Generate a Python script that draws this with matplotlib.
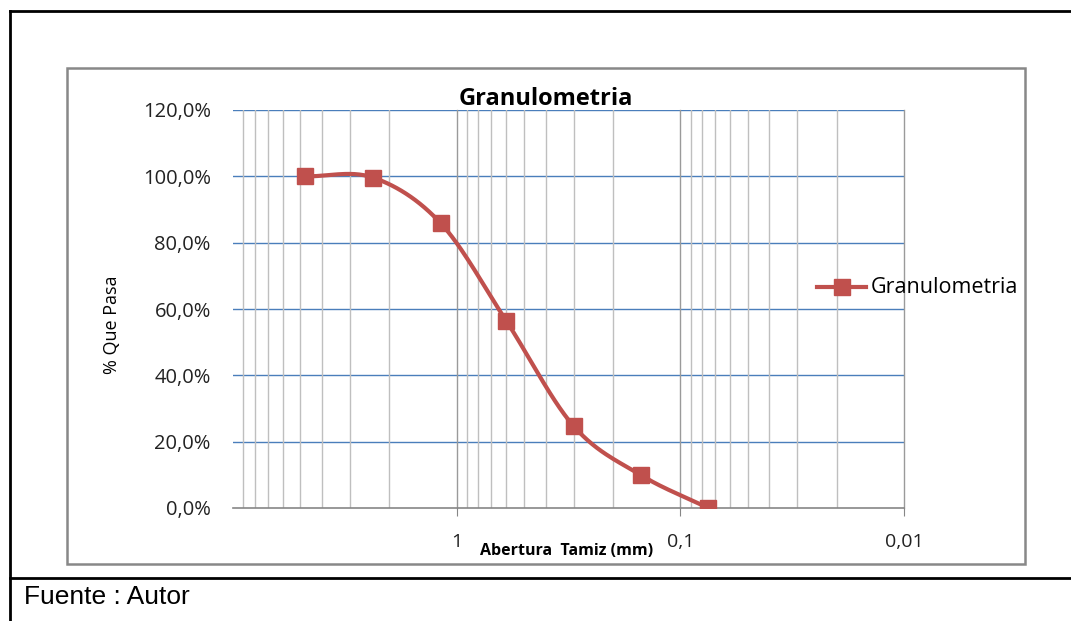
import numpy as np
import matplotlib
matplotlib.use("Agg")
import matplotlib.pyplot as plt
from matplotlib.ticker import FixedLocator, FuncFormatter, NullFormatter
from matplotlib.lines import Line2D
from matplotlib.patches import Rectangle

# sieve openings (mm) and percent passing
abertura = [4.75, 2.36, 1.18, 0.60, 0.30, 0.15, 0.075]
pasa = [1.000, 0.996, 0.859, 0.564, 0.247, 0.099, 0.0]
y_ticks = [0.0, 0.2, 0.4, 0.6, 0.8, 1.0, 1.2]
x_major = [1, 0.1, 0.01]
x_major_labels = ["1", "0,1", "0,01"]

W, H = 1071, 621
fig = plt.figure(figsize=(W / 100, H / 100), dpi=100)


def fx(px):
    return px / W


def fy(py):
    return 1 - py / H


ax = fig.add_axes([fx(233), fy(508), fx(904 - 233), (508 - 110) / H])

red = "#C0504D"
font = "Open Sans"


# excel style smoothed line (catmull-rom in log-x space)
def smooth(xs, ys, n=30):
    lx = np.log10(xs)
    pts = np.column_stack([lx, ys])
    p = np.vstack([2 * pts[0] - pts[1], pts, 2 * pts[-1] - pts[-2]])
    out = []
    for i in range(1, len(p) - 2):
        p0, p1, p2, p3 = p[i - 1], p[i], p[i + 1], p[i + 2]
        t = np.linspace(0, 1, n)[:, None]
        seg = 0.5 * ((2 * p1) + (-p0 + p2) * t + (2 * p0 - 5 * p1 + 4 * p2 - p3) * t ** 2
                     + (-p0 + 3 * p1 - 3 * p2 + p3) * t ** 3)
        out.append(seg)
    out = np.vstack(out)
    return 10 ** out[:, 0], out[:, 1]


sx, sy = smooth(abertura, pasa)
ax.plot(sx, sy, color=red, lw=3, zorder=3, solid_capstyle="round")
ax.plot(abertura, pasa, ls="none", marker="s", ms=12, color=red, zorder=4)

ax.set_xscale("log")
ax.set_xlim(10, 0.01)
ax.set_ylim(0, 1.2)

# grid
for v in y_ticks[1:]:
    ax.axhline(v, color="#4A7EBB", lw=1, zorder=1)
for dec in [1, 0.1, 0.01]:
    for m in range(2, 10):
        ax.axvline(dec * m, color="#BFBFBF", lw=1, zorder=1)
for v in x_major:
    ax.axvline(v, color="#9A9A9A", lw=1, zorder=1, clip_on=False)

for s in ["top", "left", "right"]:
    ax.spines[s].set_visible(False)
ax.spines["bottom"].set_color("#868686")
ax.spines["bottom"].set_linewidth(1.2)

ax.yaxis.set_major_locator(FixedLocator(y_ticks))
ax.yaxis.set_major_formatter(FuncFormatter(lambda v, p: f"{v * 100:.1f}%".replace(".", ",")))
ax.tick_params(axis="y", length=0, pad=16, labelsize=14.5, labelcolor="#222222")
for lab in ax.get_yticklabels():
    lab.set_fontfamily(font)

ax.xaxis.set_major_locator(FixedLocator(x_major))
ax.xaxis.set_major_formatter(FuncFormatter(lambda v, p: x_major_labels[x_major.index(v)] if v in x_major else ""))
ax.xaxis.set_minor_formatter(NullFormatter())
ax.tick_params(axis="x", which="major", length=6, color="#868686", pad=12, labelsize=14, labelcolor="#222222")
ax.tick_params(axis="x", which="minor", length=0)
for lab in ax.get_xticklabels():
    lab.set_fontfamily(font)

fig.text(fx(546), fy(99), "Granulometria", ha="center", va="center", fontsize=17,
         fontweight="bold", family=font)
fig.text(fx(567), fy(551), "Abertura  Tamiz (mm)", ha="center", va="center", fontsize=11.5,
         fontweight="bold", family=font)
fig.text(fx(112), fy(325), "% Que Pasa", ha="center", va="center", rotation=90, fontsize=13,
         family=font)

# legend
fig.add_artist(Line2D([fx(817), fx(866)], [fy(287), fy(287)], color=red, lw=3))
fig.add_artist(Line2D([fx(842)], [fy(287)], marker="s", ms=11, color=red, ls="none"))
fig.text(fx(871), fy(287), "Granulometria", ha="left", va="center", fontsize=15.5, family=font)

# chart frame and outer table lines
fig.add_artist(Rectangle((fx(67), fy(564)), fx(1025 - 67), (564 - 68) / H, fill=False,
                         edgecolor="#888888", lw=1.8, transform=fig.transFigure))
fig.add_artist(Line2D([fx(10), 1], [fy(11), fy(11)], color="black", lw=2))
fig.add_artist(Line2D([fx(10), fx(10)], [fy(11), 0], color="black", lw=2))
fig.add_artist(Line2D([fx(10), 1], [fy(578), fy(578)], color="black", lw=2))
fig.text(fx(24), fy(597), "Fuente : Autor", ha="left", va="center", fontsize=19,
         family="Liberation Sans")

fig.savefig("out.png", dpi=100)
